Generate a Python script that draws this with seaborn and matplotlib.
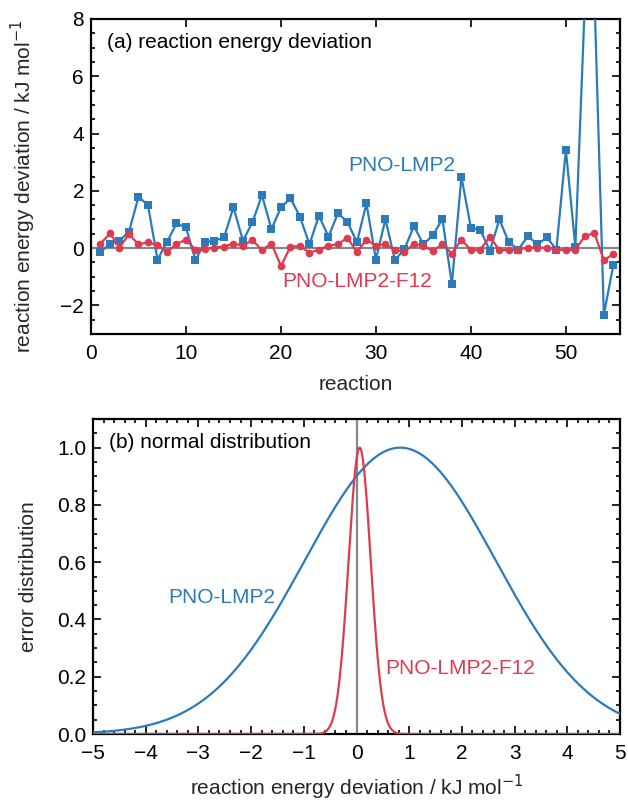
import numpy as np
import pandas as pd
import matplotlib
matplotlib.use("Agg")
import matplotlib.pyplot as plt
from matplotlib.ticker import MultipleLocator
import seaborn as sns

sns.set_theme(style="ticks")
plt.rcParams['font.family'] = ['Liberation Sans', 'DejaVu Sans']
plt.rcParams['axes.unicode_minus'] = True

# ---- data ----
reactions = list(range(1, 56))
lmp2 = [-0.13, 0.14, 0.26, 0.57, 1.79, 1.50, -0.40, 0.21, 0.86, 0.72,
        -0.42, 0.20, 0.26, 0.37, 1.42, 0.26, 0.90, 1.85, 0.66, 1.42,
        1.74, 1.10, 0.13, 1.13, 0.40, 1.21, 0.92, 0.20, 1.56, -0.40,
        1.01, -0.42, -0.04, 0.77, 0.13, 0.45, 1.01, -1.26, 2.49, 0.71,
        0.63, -0.09, 1.00, 0.20, -0.05, 0.42, 0.13, 0.37, -0.05, 3.43,
        0.05, 8.6, 8.9, -2.32, -0.59]
f12 = [0.16, 0.51, 0.02, 0.49, 0.13, 0.20, 0.10, -0.13, 0.14, 0.30,
       -0.07, -0.04, 0.02, 0.05, 0.16, 0.08, 0.28, -0.07, 0.16, -0.63,
       0.05, 0.07, -0.16, -0.05, 0.08, 0.14, 0.36, -0.15, 0.30, 0.08,
       0.14, -0.05, -0.13, 0.14, 0.07, -0.09, 0.13, -0.19, 0.30, -0.07,
       -0.05, 0.40, -0.07, -0.07, -0.05, 0.02, 0.01, 0.02, -0.05, -0.07,
       -0.05, 0.42, 0.53, -0.42, -0.21]

# normal distribution parameters (mean, std)
lmp2_mu, lmp2_sigma = 0.83, 1.81
f12_mu, f12_sigma = 0.06, 0.21

BLUE = "#2b7bba"
RED = "#de3a50"
GRAY = "#7f8c8d"

fig = plt.figure(figsize=(6.28, 8.0), dpi=100)
ax1 = fig.add_axes([91/628, 1-334/800, (620-91)/628, (334-19)/800])
ax2 = fig.add_axes([93/628, 1-734/800, (620-93)/628, (734-419)/800])

FS = 15

# ---- panel (a) ----
ax1.axhline(0, color=GRAY, lw=1.6, zorder=1)
df_a = pd.DataFrame({"reaction": reactions, "lmp2": lmp2, "f12": f12})
sns.lineplot(data=df_a, x="reaction", y="lmp2", ax=ax1, color=BLUE, lw=1.6,
             marker="s", markersize=5.5, markeredgewidth=0, zorder=3)
sns.lineplot(data=df_a, x="reaction", y="f12", ax=ax1, color=RED, lw=1.6,
             marker="o", markersize=5.5, markeredgewidth=0, zorder=4)
ax1.set_xlim(0, 55.7)
ax1.set_ylim(-3, 8)
ax1.xaxis.set_major_locator(MultipleLocator(10))
ax1.yaxis.set_major_locator(MultipleLocator(2))
ax1.yaxis.set_minor_locator(MultipleLocator(0.5))
ax1.set_xlabel("reaction", fontsize=FS, labelpad=9)
ax1.set_ylabel("reaction energy deviation / kJ mol$^{-1}$", fontsize=FS)
ax1.yaxis.set_label_coords(-0.10, 0.47)
ax1.text(0.03, 0.955, "(a) reaction energy deviation", transform=ax1.transAxes,
         fontsize=FS, va="top", ha="left", color="black")
ax1.text(32.7, 2.9, "PNO-LMP2", color=BLUE, fontsize=FS, ha="center", va="center")
ax1.text(28.0, -1.15, "PNO-LMP2-F12", color=RED, fontsize=FS, ha="center", va="center")

# ---- panel (b) ----
xs = np.linspace(-5, 5, 1001)
g_lmp2 = np.exp(-(xs - lmp2_mu) ** 2 / (2 * lmp2_sigma ** 2))
g_f12 = np.exp(-(xs - f12_mu) ** 2 / (2 * f12_sigma ** 2))
ax2.axvline(0, color=GRAY, lw=1.6, zorder=1)
sns.lineplot(x=xs, y=g_lmp2, ax=ax2, color=BLUE, lw=1.6, zorder=3)
sns.lineplot(x=xs, y=g_f12, ax=ax2, color=RED, lw=1.6, zorder=4)
ax2.set_xlim(-5, 5)
ax2.set_ylim(0, 1.1)
ax2.xaxis.set_major_locator(MultipleLocator(1))
ax2.xaxis.set_minor_locator(MultipleLocator(0.2))
ax2.yaxis.set_major_locator(MultipleLocator(0.2))
ax2.yaxis.set_minor_locator(MultipleLocator(0.05))
ax2.set_xlabel("reaction energy deviation / kJ mol$^{-1}$", fontsize=FS, labelpad=7)
ax2.set_ylabel("error distribution", fontsize=FS)
ax2.yaxis.set_label_coords(-0.104, 0.5)
ax2.text(0.03, 0.955, "(b) normal distribution", transform=ax2.transAxes,
         fontsize=FS, va="top", ha="left", color="black")
ax2.text(-2.55, 0.475, "PNO-LMP2", color=BLUE, fontsize=FS, ha="center", va="center")
ax2.text(1.97, 0.227, "PNO-LMP2-F12", color=RED, fontsize=FS, ha="center", va="center")

for ax in (ax1, ax2):
    for s in ax.spines.values():
        s.set_linewidth(1.6)
        s.set_color("black")
        s.set_visible(True)
    ax.tick_params(which="both", direction="in", top=True, right=True,
                   labelsize=FS, colors="black", width=1.2)
    ax.tick_params(axis="x", which="both", pad=7)
    ax.tick_params(axis="y", which="both", pad=5)
    ax.tick_params(which="major", length=6)
    ax.tick_params(which="minor", length=3)

fig.savefig("out.png", dpi=100)
